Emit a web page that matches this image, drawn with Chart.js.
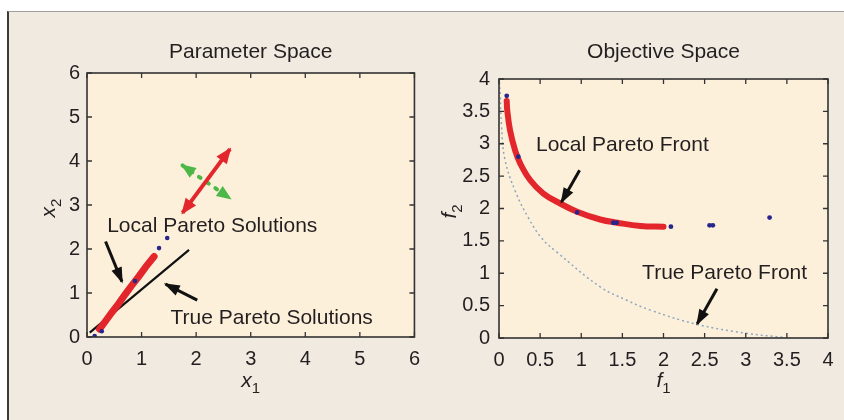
<!DOCTYPE html>
<html lang="en">
<head>
<meta charset="UTF-8">
<title>Parameter Space / Objective Space</title>
<script src="https://cdn.jsdelivr.net/npm/chart.js"></script>
<style>
  body { margin: 0; background: #fff; width: 844px; height: 420px; position: relative; overflow: hidden; }
  #frame { position: absolute; left: 7px; top: 11px; right: 0; bottom: 0; background: #f1eae1;
           border-left: 2px solid #3a3a3a; border-top: 1px solid #a0a0a0; }
  canvas { position: absolute; top: 0; }
  #left { left: 0; }
  #right { left: 430px; }
</style>
</head>
<body>
<div id="frame"></div>
<canvas id="left" width="430" height="420"></canvas>
<canvas id="right" width="414" height="420"></canvas>
<script>
// ---- parameter space (x1, x2) ----
const psTicks = [0, 1, 2, 3, 4, 5, 6];
const trueSolX = [0.05, 1.87];
const trueSolY = [0.10, 1.98];
const localSolX = [0.23, 0.32, 0.45, 0.58, 0.70, 0.82, 0.95, 1.08, 1.23];
const localSolY = [0.18, 0.33, 0.55, 0.76, 0.97, 1.17, 1.38, 1.60, 1.83];
const psDotX = [0.14, 0.27, 0.88, 1.32, 1.47];
const psDotY = [0.02, 0.13, 1.27, 2.02, 2.25];
// arrows as [xFrom, yFrom, xTo, yTo]
const redArrow = [1.75, 2.82, 2.62, 4.27];
const greenArrow = [1.75, 3.90, 2.62, 3.15];
const localSolArrow = [0.34, 2.17, 0.64, 1.26];
const trueSolArrow = [2.02, 0.84, 1.44, 1.20];

// ---- objective space (f1, f2) ----
const osTicks = [0, 0.5, 1, 1.5, 2, 2.5, 3, 3.5, 4];
const trueFrontF1 = [0.005, 0.015, 0.03, 0.07, 0.20, 0.36, 0.52, 0.70, 1.23, 1.56, 1.84, 2.41, 3.02, 3.46];
const trueFrontF2 = [3.95, 3.75, 3.29, 2.77, 2.26, 1.85, 1.54, 1.33, 0.79, 0.58, 0.43, 0.21, 0.07, 0.01];
const localFrontF1 = [0.094, 0.10, 0.134, 0.195, 0.256, 0.378, 0.54, 0.74, 0.95, 1.23, 1.44, 1.72, 2.00];
const localFrontF2 = [3.66, 3.52, 3.21, 2.90, 2.70, 2.44, 2.23, 2.08, 1.95, 1.83, 1.78, 1.73, 1.72];
const osDotF1 = [0.094, 0.235, 0.95, 1.39, 1.43, 2.09, 2.56, 2.60, 3.29];
const osDotF2 = [3.74, 2.80, 1.94, 1.78, 1.78, 1.72, 1.74, 1.74, 1.86];
const localFrontArrow = [0.98, 2.59, 0.76, 2.10];
const trueFrontArrow = [2.65, 0.76, 2.41, 0.22];

const FONT = '"Liberation Sans", Arial, sans-serif';
const INK = '#231f20';
Chart.defaults.font.family = FONT;

const pts = (xs, ys) => xs.map((x, i) => ({ x: x, y: ys[i] }));
const seg = a => [{ x: a[0], y: a[1] }, { x: a[2], y: a[3] }];

function drawHead(ctx, from, to, len, w, color) {
    const ang = Math.atan2(to.y - from.y, to.x - from.x);
    ctx.save();
    ctx.translate(to.x, to.y);
    ctx.rotate(ang);
    ctx.fillStyle = color;
    ctx.beginPath();
    ctx.moveTo(2, 0);
    ctx.lineTo(-len, -w / 2);
    ctx.lineTo(-len, w / 2);
    ctx.closePath();
    ctx.fill();
    ctx.restore();
}

function subLabel(ctx, main, sub, x, y, rotate) {
    ctx.save();
    ctx.translate(x, y);
    if (rotate) ctx.rotate(-Math.PI / 2);
    ctx.textBaseline = 'alphabetic';
    ctx.textAlign = 'left';
    ctx.fillStyle = INK;
    ctx.font = 'italic 21px ' + FONT;
    const w1 = ctx.measureText(main).width;
    ctx.font = '15px ' + FONT;
    const w2 = ctx.measureText(sub).width;
    const x0 = -(w1 + w2) / 2;
    ctx.font = 'italic 21px ' + FONT;
    ctx.fillText(main, x0, 0);
    ctx.font = '15px ' + FONT;
    ctx.fillText(sub, x0 + w1, 6);
    ctx.restore();
}

// plot background, box with inward ticks, titles and annotations
const panelPlugin = {
    id: 'panel',
    beforeDraw(chart) {
        const { ctx, chartArea: a } = chart;
        ctx.save();
        ctx.fillStyle = '#fdf0da';
        ctx.fillRect(a.left, a.top, a.right - a.left, a.bottom - a.top);
        ctx.restore();
    },
    afterDatasetsDraw(chart) {
        const ctx = chart.ctx;
        chart.data.datasets.forEach((ds, i) => {
            if (!ds.heads) return;
            const p = chart.getDatasetMeta(i).data;
            const p0 = p[0], p1 = p[p.length - 1];
            drawHead(ctx, p0, p1, ds.headLen, ds.headW, ds.borderColor);
            if (ds.heads === 'both') drawHead(ctx, p1, p0, ds.headLen, ds.headW, ds.borderColor);
        });
    },
    afterDraw(chart, args, o) {
        const { ctx, chartArea: a, scales } = chart;
        ctx.save();
        // inward tick marks
        ctx.strokeStyle = '#333';
        ctx.lineWidth = 1.3;
        ctx.beginPath();
        scales.x.ticks.forEach(t => {
            const x = scales.x.getPixelForValue(t.value);
            ctx.moveTo(x, a.bottom); ctx.lineTo(x, a.bottom - 5);
            ctx.moveTo(x, a.top); ctx.lineTo(x, a.top + 5);
        });
        scales.y.ticks.forEach(t => {
            const y = scales.y.getPixelForValue(t.value);
            ctx.moveTo(a.left, y); ctx.lineTo(a.left + 5, y);
            ctx.moveTo(a.right, y); ctx.lineTo(a.right - 5, y);
        });
        ctx.stroke();
        ctx.lineWidth = 1.6;
        ctx.strokeRect(a.left, a.top, a.right - a.left, a.bottom - a.top);

        // title
        ctx.fillStyle = INK;
        ctx.font = '21px ' + FONT;
        ctx.textAlign = 'center';
        ctx.textBaseline = 'middle';
        ctx.fillText(o.title, (a.left + a.right) / 2, o.titleY);

        // annotations in data coordinates
        ctx.font = '21px ' + FONT;
        ctx.textAlign = 'left';
        o.notes.forEach(n => {
            ctx.fillText(n.text, scales.x.getPixelForValue(n.x), scales.y.getPixelForValue(n.y));
        });
        ctx.restore();

        subLabel(ctx, o.xLabel[0], o.xLabel[1], (a.left + a.right) / 2, 387, false);
        subLabel(ctx, o.yLabel[0], o.yLabel[1], o.yLabelX, (a.top + a.bottom) / 2 + 3, true);
    }
};

function axis(min, max, tickVals, fit, pad) {
    return {
        type: 'linear', min: min, max: max,
        afterBuildTicks: s => { s.ticks = tickVals.map(v => ({ value: v })); },
        afterFit: fit,
        grid: { display: false, drawTicks: false },
        border: { display: false },
        ticks: { font: { size: 20 }, color: INK, padding: pad, maxRotation: 0, autoSkip: false,
                 callback: v => String(v) }
    };
}

function lineSet(data, color, width, extra) {
    return Object.assign({
        data: data, showLine: true, borderColor: color, backgroundColor: color,
        borderWidth: width, pointRadius: 0, fill: false, tension: 0
    }, extra || {});
}

function dotSet(data, color, r) {
    return { data: data, showLine: false, pointRadius: r, pointBorderWidth: 0,
             backgroundColor: color, borderColor: color };
}

const common = {
    responsive: false,
    animation: false,
    events: [],
    plugins: { legend: { display: false }, tooltip: { enabled: false } }
};

// Parameter Space
new Chart(document.getElementById('left'), {
    type: 'scatter',
    data: {
        datasets: [
            dotSet(pts(psDotX, psDotY), '#26268c', 2.3),
            lineSet(seg(redArrow), '#e3262c', 4, { heads: 'both', headLen: 14, headW: 13 }),
            lineSet(seg(greenArrow), '#4db848', 4, { heads: 'both', headLen: 13, headW: 12,
                borderDash: [2, 8], borderCapStyle: 'round' }),
            lineSet(seg(localSolArrow), '#111', 3, { heads: 'end', headLen: 14, headW: 11 }),
            lineSet(seg(trueSolArrow), '#111', 3, { heads: 'end', headLen: 14, headW: 11 }),
            lineSet(pts(localSolX, localSolY), '#e3262c', 7, { borderCapStyle: 'round' }),
            lineSet(pts(trueSolX, trueSolY), '#111', 2.2)
        ]
    },
    options: Object.assign({}, common, {
        layout: { padding: { top: 73, right: 10, left: 0, bottom: 0 } },
        scales: {
            x: axis(0, 6, psTicks, s => { s.height = 83; }, 10),
            y: axis(0, 6, psTicks, s => { s.width = 87; }, 7)
        },
        plugins: Object.assign({}, common.plugins, {
            panel: {
                title: 'Parameter Space', titleY: 52,
                xLabel: ['x', '1'], yLabel: ['x', '2'], yLabelX: 55,
                notes: [
                    { text: 'Local Pareto Solutions', x: 0.37, y: 2.52 },
                    { text: 'True Pareto Solutions', x: 1.53, y: 0.42 }
                ]
            }
        })
    }),
    plugins: [panelPlugin]
});

// Objective Space
new Chart(document.getElementById('right'), {
    type: 'scatter',
    data: {
        datasets: [
            dotSet(pts(osDotF1, osDotF2), '#26268c', 2.4),
            lineSet(seg(localFrontArrow), '#111', 3, { heads: 'end', headLen: 14, headW: 11 }),
            lineSet(seg(trueFrontArrow), '#111', 3, { heads: 'end', headLen: 14, headW: 11 }),
            lineSet(pts(localFrontF1, localFrontF2), '#e3262c', 6, { tension: 0.4, borderCapStyle: 'round' }),
            lineSet(pts(trueFrontF1, trueFrontF2), '#8ea6c2', 1.5, { tension: 0.4, borderDash: [2, 3] })
        ]
    },
    options: Object.assign({}, common, {
        layout: { padding: { top: 79, right: 16, left: 0, bottom: 0 } },
        scales: {
            x: axis(0, 4, osTicks, s => { s.height = 82; }, 10),
            y: axis(0, 4, osTicks, s => { s.width = 69; }, 9)
        },
        plugins: Object.assign({}, common.plugins, {
            panel: {
                title: 'Objective Space', titleY: 52,
                xLabel: ['f', '1'], yLabel: ['f', '2'], yLabelX: 26,
                notes: [
                    { text: 'Local Pareto Front', x: 0.45, y: 2.98 },
                    { text: 'True Pareto Front', x: 1.74, y: 1.00 }
                ]
            }
        })
    }),
    plugins: [panelPlugin]
});
</script>
</body>
</html>
